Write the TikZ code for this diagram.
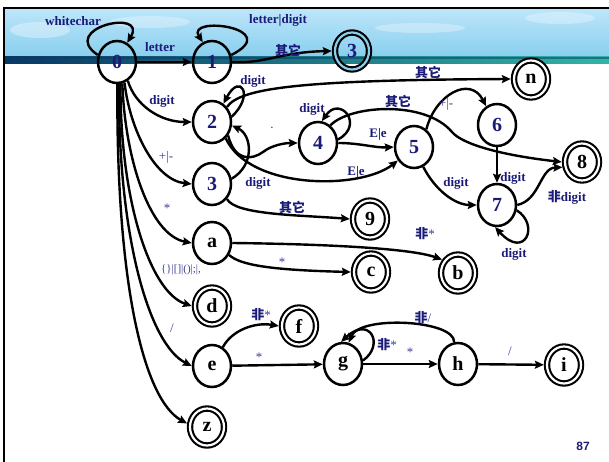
\documentclass[tikz,border=0pt]{standalone}
\usepackage{fontspec}
\setmainfont{Liberation Serif}
\newfontfamily\cjk{Noto Sans CJK SC}
\newfontfamily\pagefont{Liberation Sans}
\usetikzlibrary{shapes.geometric,arrows.meta}
\definecolor{navy}{RGB}{26,26,120}
\definecolor{lnavy}{RGB}{60,60,150}
\definecolor{skytop}{RGB}{190,230,250}
\definecolor{skybot}{RGB}{135,206,238}
\definecolor{banddark}{RGB}{8,55,100}
\definecolor{bandlight}{RGB}{50,180,165}
\begin{document}
\begin{tikzpicture}[x=1pt,y=1pt,
  st/.style={ellipse,draw,line width=2.5pt,minimum width=38pt,minimum height=42pt,inner sep=0pt,font=\fontsize{20}{20}\selectfont\bfseries},
  acc/.style={ellipse,draw,line width=2.1pt,double,double distance=2.2pt,minimum width=34pt,minimum height=37pt,inner sep=0pt,outer sep=3.2pt,font=\fontsize{20}{20}\selectfont\bfseries},
  edge/.style={line width=2.4pt,-{Stealth[length=9pt,width=8pt,inset=1.5pt]}},
  lab/.style={text=navy,font=\fontsize{13}{13}\selectfont\bfseries,inner sep=0pt},
  clab/.style={text=navy,font=\cjk\fontsize{13}{13}\selectfont\bfseries,inner sep=0pt},
  slab/.style={text=lnavy,font=\fontsize{13}{13}\selectfont,inner sep=0pt},
]
\useasboundingbox (0,0) rectangle (609,-462);
% slide background
\fill[top color=skytop,bottom color=skybot] (4,-8) rectangle (609,-58);
\fill[white,opacity=0.35] (40,-30) ellipse (30 and 8);
\fill[white,opacity=0.3] (150,-22) ellipse (40 and 6);
\fill[white,opacity=0.3] (420,-28) ellipse (45 and 5);
\fill[white,opacity=0.3] (560,-18) ellipse (35 and 6);
\fill[left color=banddark,right color=bandlight] (4,-57) rectangle (609,-64);
\fill[banddark,opacity=0.5] (4,-57) rectangle (609,-59);
\draw[line width=2.5pt] (4,-462) -- (4,-8) -- (609,-8);

% nodes
\node[st,text=navy] (n0) at (117,-62) {0};
\node[st,text=navy] (n1) at (212,-62) {1};
\node[acc,text=navy,double=skybot] (n3a) at (352,-51) {3};
\node[acc] (nn) at (531,-79) {n};
\node[st,text=navy] (n2) at (212,-122) {2};
\node[st,text=navy] (n4) at (318,-143) {4};
\node[st,text=navy] (n5) at (414,-147) {5};
\node[st,text=navy] (n6) at (497,-125) {6};
\node[acc] (n8) at (582,-162) {8};
\node[st,text=navy] (n7) at (497,-205) {7};
\node[st,text=navy] (n3b) at (212,-184) {3};
\node[acc] (n9) at (370,-219) {9};
\node[st] (na) at (212,-243) {a};
\node[acc] (nb) at (458,-273) {b};
\node[acc] (nc) at (371,-272) {c};
\node[acc] (nd) at (212,-306) {d};
\node[acc] (nf) at (299,-326) {f};
\node[st] (ne) at (212,-366) {e};
\node[st] (ng) at (343,-364) {g};
\node[st] (nh) at (458,-364) {h};
\node[acc] (ni) at (564,-365) {i};
\node[acc] (nz) at (207,-427) {z};

% edges
\draw[edge] (n0.160) .. controls (58,-28) and (148,-8) .. (n0.62);
\draw[edge] (n0) -- (n1);
\draw[edge] (n1.20) .. controls (285,-28) and (185,-15) .. (n1.115);
\draw[edge] (n1.east) .. controls (265,-64) and (280,-52) .. (n3a.west);
\draw[edge] (n2.45) .. controls (240,-88) and (300,-80) .. (nn.west);
\draw[edge] (n2.15) .. controls (255,-95) and (240,-72) .. (n2.58);
\draw[edge] (n2.-40) .. controls (235,-162) and (252,-160) .. (263,-152) .. controls (272,-145) and (285,-143) .. (n4.west);
\draw[edge] (n2.-50) .. controls (250,-190) and (360,-190) .. (n5.-140);
\draw[edge] (n3b.15) .. controls (255,-165) and (252,-135) .. (n2.-10);
\draw[edge] (n4.10) .. controls (365,-125) and (340,-95) .. (n4.80);
\draw[edge] (n4.east) .. controls (360,-143) and (375,-148) .. (n5.west);
\draw[edge] (n4.55) .. controls (350,-105) and (425,-100) .. (452,-132) .. controls (462,-144) and (500,-155) .. (n8.west);
\draw[edge] (n5.55) .. controls (435,-95) and (470,-75) .. (n6.120);
\draw[edge] (n6) -- (n7);
\draw[edge] (n5.-65) .. controls (435,-190) and (455,-205) .. (n7.west);
\draw[edge] (n7.east) .. controls (540,-200) and (540,-168) .. (n8.-165);
\draw[edge] (n7.-15) .. controls (540,-225) and (525,-260) .. (n7.-95);
\draw[edge] (n0.-60) .. controls (135,-105) and (160,-122) .. (n2.west);
\draw[edge] (n0.-70) .. controls (130,-130) and (155,-180) .. (n3b.west);
\draw[edge] (n0.-76) .. controls (125,-160) and (150,-235) .. (na.west);
\draw[edge] (n0.-81) .. controls (120,-200) and (150,-292) .. (nd.west);
\draw[edge] (n0.-85) .. controls (118,-240) and (150,-345) .. (ne.west);
\draw[edge] (n0.-89) .. controls (116,-290) and (145,-400) .. (nz.170);
\draw[edge] (n3b.-45) .. controls (235,-215) and (300,-215) .. (n9.west);
\draw[edge] (na.east) .. controls (320,-244) and (410,-248) .. (nb.140);
\draw[edge] (na.-35) .. controls (240,-265) and (270,-270) .. (nc.west);
\draw[edge] (ne.60) .. controls (232,-330) and (255,-322) .. (nf.west);
\draw[edge] (ne) -- (ng);
\draw[edge] (ng.10) .. controls (385,-345) and (370,-315) .. (ng.95);
\draw[edge] (nh.100) .. controls (455,-320) and (360,-315) .. (ng.75);
\draw[edge] (ng) -- (nh);
\draw[edge] (nh) -- (ni);

% labels
\node[lab] (lwc) at (73,-21) {whitechar};
\node[lab] (llet) at (160,-47) {letter};
\node[lab] (lld) at (278,-20) {letter|digit};
\node[clab] (lq1) at (288,-50) {其它};
\node[clab] (lq2) at (428,-72) {其它};
\node[lab] (ld2) at (253,-81) {digit};
\node[lab] (ld0) at (162,-101) {digit};
\node[lab] (ld4) at (312,-109) {digit};
\node[clab] (lq3) at (398,-101) {其它};
\node[slab] (lpm56) at (446,-104) {+|-};
\node[slab] (ldot) at (272,-128) {.};
\node[lab] (lEe1) at (378,-134) {E|e};
\node[lab] (lEe2) at (356,-172) {E|e};
\node[slab] (lpm0) at (166,-157) {+|-};
\node[lab] (ld3) at (258,-183) {digit};
\node[lab] (ld57) at (456,-183) {digit};
\node[lab] (ld67) at (513,-178) {digit};
\node[lab] (lnd) at (567,-197) {{\cjk\bfseries 非}digit};
\node[slab] (last0) at (167,-208) {*};
\node[clab] (lq4) at (292,-207) {其它};
\node[lab] (lnstar1) at (425,-234) {{\cjk\bfseries 非}\textcolor{lnavy}{\mdseries *}};
\node[lab] (ld77) at (514,-254) {digit};
\node[slab] (lastac) at (282,-262) {*};
\node[slab,font=\fontsize{11}{11}\selectfont] (lpunct) at (181,-270) {\{\}|[]|()|;|,};
\node[lab] (lnstar2) at (261,-315) {{\cjk\bfseries 非}\textcolor{lnavy}{\mdseries *}};
\node[lab] (lnslash) at (423,-318) {{\cjk\bfseries 非}\textcolor{lnavy}{\mdseries /}};
\node[slab] (lslash0) at (172,-328) {/};
\node[lab] (lnstar3) at (387,-345) {{\cjk\bfseries 非}\textcolor{lnavy}{\mdseries *}};
\node[slab] (lasteg) at (259,-357) {*};
\node[slab] (lastgh) at (410,-352) {*};
\node[slab] (lslhi) at (510,-351) {/};
\node[text=navy,font=\pagefont\fontsize{12}{12}\selectfont\bfseries,inner sep=0pt] (pg) at (583,-446) {87};
\end{tikzpicture}
\end{document}
